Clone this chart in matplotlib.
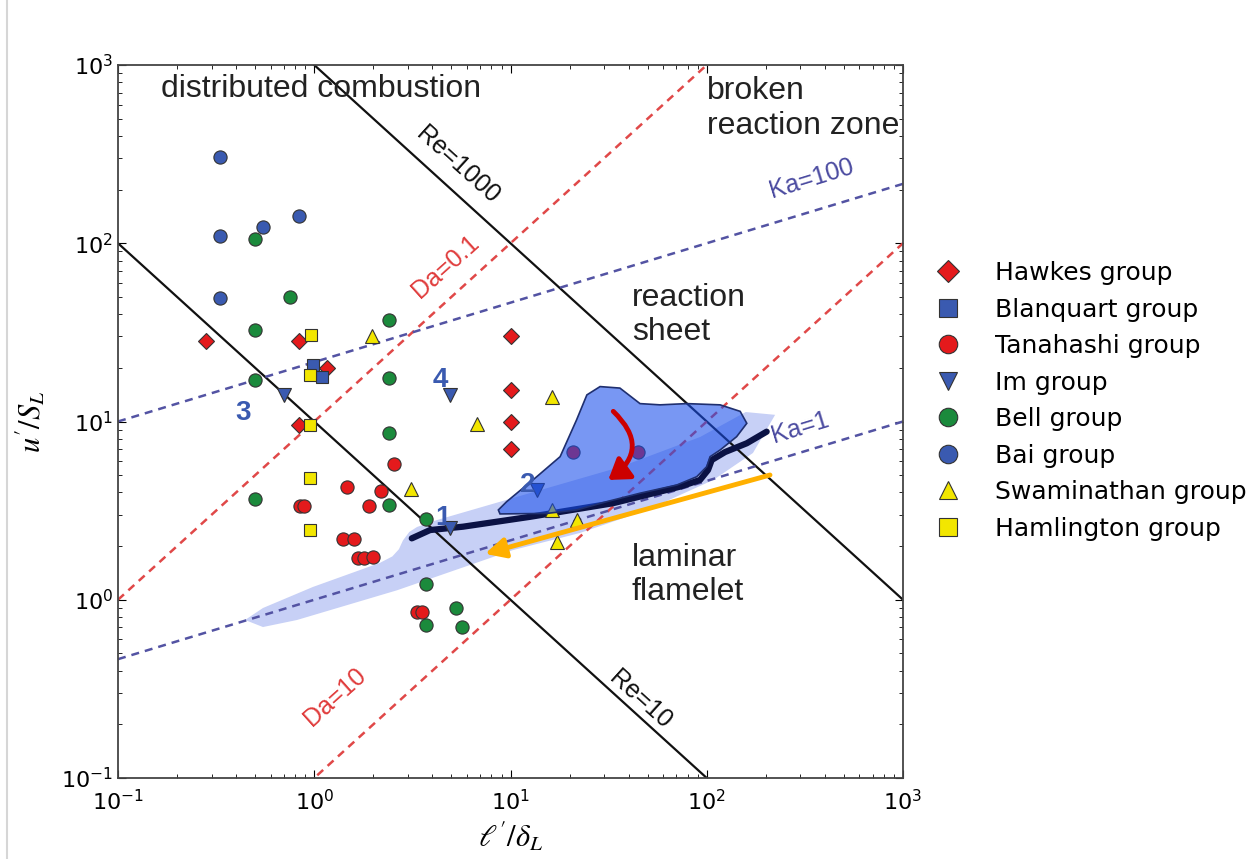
import numpy as np
import matplotlib
matplotlib.use('Agg')
import matplotlib.pyplot as plt
from matplotlib.patches import FancyArrowPatch
from matplotlib.lines import Line2D

plt.rcParams['mathtext.fontset'] = 'stix'

# regime boundaries
re_vals = [10, 1000]
da_vals = [0.1, 10]
ka_vals = [1, 100]

# datasets, (l'/delta_L, u'/S_L)
hawkes_x = [0.28, 0.84, 10, 10, 10, 10, 0.84, 1.16]
hawkes_y = [28.3, 28.3, 30, 15, 10, 7.0, 9.6, 20]
blanquart_x = [0.99, 1.10]
blanquart_y = [20.7, 17.7]
tanahashi_x = [2.56, 1.47, 2.18, 0.85, 0.89, 1.89, 1.40, 1.59, 1.68, 1.79, 1.99, 3.33, 3.53, 20.9, 44.8]
tanahashi_y = [5.75, 4.27, 4.07, 3.37, 3.37, 3.36, 2.18, 2.18, 1.71, 1.71, 1.74, 0.85, 0.85, 6.77, 6.77]
im_x = [0.70, 4.92, 4.92, 13.6]
im_y = [14.1, 14.1, 2.52, 4.13]
bell_x = [0.50, 0.75, 2.39, 0.50, 0.50, 2.39, 2.39, 0.50, 2.39, 3.71, 3.71, 5.28, 3.71, 5.68]
bell_y = [106, 50, 37.1, 32.6, 17.1, 17.6, 8.6, 3.66, 3.40, 2.83, 1.22, 0.895, 0.722, 0.706]
bai_x = [0.33, 0.33, 0.55, 0.84, 0.33]
bai_y = [306, 110, 124, 142, 49]
swami_x = [1.98, 6.73, 16.2, 3.10, 16.2, 21.7, 17.2]
swami_y = [30.1, 9.68, 13.8, 4.18, 3.19, 2.81, 2.12]
hamlington_x = [0.96, 0.95, 0.95, 0.95, 0.95]
hamlington_y = [30.6, 18.2, 9.6, 4.84, 2.46]

# operating envelope (light band) and transient region (dark blob)
band_x = [0.444, 0.548, 0.985, 2.16, 2.50, 2.70, 2.83, 3.05, 3.34, 4.22, 12.6, 36.1, 92.4, 158, 223,
          172, 108, 49.6, 22.6, 10.3, 2.64, 0.817, 0.548]
band_y = [0.770, 0.899, 1.18, 1.61, 1.75, 1.92, 2.15, 2.40, 2.56, 2.80, 3.97, 5.55, 8.18, 11.3, 10.9,
          6.66, 4.70, 3.19, 2.37, 1.90, 1.13, 0.770, 0.703]
blob_x = [8.67, 9.56, 13.6, 17.9, 21.7, 24.5, 28.6, 36.1, 45.7, 57.8, 79.0, 117, 148, 160,
          142, 117, 104, 100, 88.9, 70.3, 45.7, 30.9, 21.7, 15.3, 8.84]
blob_y = [3.19, 3.55, 4.90, 6.35, 10.2, 14.1, 15.7, 15.4, 12.6, 12.4, 12.6, 12.4, 11.4, 9.77,
          8.22, 6.92, 6.35, 5.58, 4.90, 4.40, 3.96, 3.55, 3.19, 3.05, 3.03]
traj_x = [3.14, 3.89, 5.73, 12.6, 33.3, 73.1, 92.4, 101.5, 106, 124, 160, 202]
traj_y = [2.21, 2.46, 2.57, 2.92, 3.48, 4.31, 4.70, 5.34, 6.08, 6.74, 7.55, 8.77]

fig = plt.figure(figsize=(12.6, 8.59), dpi=100)
ax = fig.add_axes([118 / 1260, 1 - 778 / 859, 785 / 1260, 713 / 859])
ax.set_xscale('log')
ax.set_yscale('log')
ax.set_xlim(0.1, 1000)
ax.set_ylim(0.1, 1000)

l = np.logspace(-1, 3, 200)
for re in re_vals:
    ax.plot(l, re / l, color='#111111', lw=1.6, zorder=2)
for da in da_vals:
    ax.plot(l, l / da, color='#e04848', lw=1.8, ls=(0, (3.2, 2.4)), zorder=2)
for ka in ka_vals:
    ax.plot(l, ka ** (2 / 3) * l ** (1 / 3), color='#5353a3', lw=1.8, ls=(0, (3.2, 2.4)), zorder=2)

ax.fill(band_x, band_y, color='#c7d0f6', lw=0, zorder=1)
ax.plot(traj_x, traj_y, color='#0b1244', lw=4.5, solid_capstyle='round', zorder=3)

mk = dict(ls='none', mec='#333333', mew=0.8, zorder=4)
ax.plot(hawkes_x, hawkes_y, 'D', ms=8, mfc='#e41a1c', label='Hawkes group', **mk)
ax.plot(blanquart_x, blanquart_y, 's', ms=9, mfc='#3a5ab0', label='Blanquart group', **mk)
ax.plot(tanahashi_x, tanahashi_y, 'o', ms=9.5, mfc='#e41a1c', label='Tanahashi group', **mk)
ax.plot(im_x, im_y, 'v', ms=9.5, mfc='#3a5ab0', label='Im group', **mk)
ax.plot(bell_x, bell_y, 'o', ms=9.5, mfc='#1b8a3c', label='Bell group', **mk)
ax.plot(bai_x, bai_y, 'o', ms=9.5, mfc='#3a5ab0', label='Bai group', **mk)
ax.plot(swami_x, swami_y, '^', ms=9.5, mfc='#f2e600', label='Swaminathan group', **mk)
ax.plot(hamlington_x, hamlington_y, 's', ms=9, mfc='#f2e600', label='Hamlington group', **mk)

ax.fill(blob_x, blob_y, facecolor=(0.09, 0.30, 0.92, 0.58), edgecolor='#1f2f6f', lw=1.2, zorder=5)

# arrows
ax.add_patch(FancyArrowPatch((33.4, 11.4), (31.5, 4.7), connectionstyle='arc3,rad=-0.6',
                             arrowstyle='-|>,head_length=0.6,head_width=0.4', mutation_scale=20,
                             lw=3.5, color='#cc0000', shrinkA=0, shrinkB=0, zorder=7))
ax.add_patch(FancyArrowPatch((210, 5.01), (7.41, 1.81),
                             arrowstyle='-|>,head_length=0.6,head_width=0.3', mutation_scale=20,
                             lw=3.5, color='#ffb000', shrinkA=0, shrinkB=0, zorder=7))

# case numbers
for txt, x, y in [('1', 4.55, 2.86), ('2', 12.3, 4.40), ('3', 0.435, 11.1), ('4', 4.37, 17.1)]:
    ax.text(x, y, txt, color='#3a5ab0', fontsize=20, fontweight='bold', family='Liberation Sans',
            ha='center', va='center', zorder=6)

# line labels
lab = dict(fontsize=18, family='Liberation Sans', ha='center', va='center', rotation_mode='anchor')
ax.text(5.40, 275, 'Re=1000', rotation=-42, color='#111111', **lab)
ax.text(45.7, 0.274, 'Re=10', rotation=-42, color='#111111', **lab)
ax.text(4.69, 73.6, 'Da=0.1', rotation=42, color='#e03c3c', **lab)
ax.text(1.28, 0.285, 'Da=10', rotation=42, color='#e03c3c', **lab)
ax.text(344, 232, 'Ka=100', rotation=17, color='#4a4aa0', **lab)
ax.text(299, 9.2, 'Ka=1', rotation=17, color='#4a4aa0', **lab)

# regime names
reg = dict(fontsize=23, family='Liberation Sans', color='#222222', va='center')
ax.text(1.08, 733, 'distributed combustion', ha='center', **reg)
ax.text(100, 570, 'broken\nreaction zone', ha='left', **reg)
ax.text(41.6, 39.6, 'reaction\nsheet', ha='left', **reg)
ax.text(41.6, 1.377, 'laminar\nflamelet', ha='left', **reg)

ax.set_xlabel(r"$\ell^{\prime}/\delta_L$", fontsize=22, labelpad=4)
ax.set_ylabel(r"$u^{\prime}/S_L$", fontsize=22, labelpad=10)
ax.tick_params(which='both', direction='in', top=True, right=True, labelsize=16)
ax.tick_params(which='major', length=6)
ax.tick_params(which='minor', length=3)
ax.tick_params(axis='x', which='major', pad=8)
for s in ax.spines.values():
    s.set_color('#444444')
    s.set_linewidth(1.3)

ax.legend(loc='center left', bbox_to_anchor=(0.7246, 0.5334), bbox_transform=fig.transFigure,
          frameon=False, fontsize=18, markerscale=1.4, handlelength=2, handletextpad=0.9,
          labelspacing=0.5, borderaxespad=0, borderpad=0.4)

fig.add_artist(Line2D([7 / 1260, 7 / 1260], [0, 1], color='#d6d6d6', lw=1.5))

fig.savefig('out.png', dpi=100)
